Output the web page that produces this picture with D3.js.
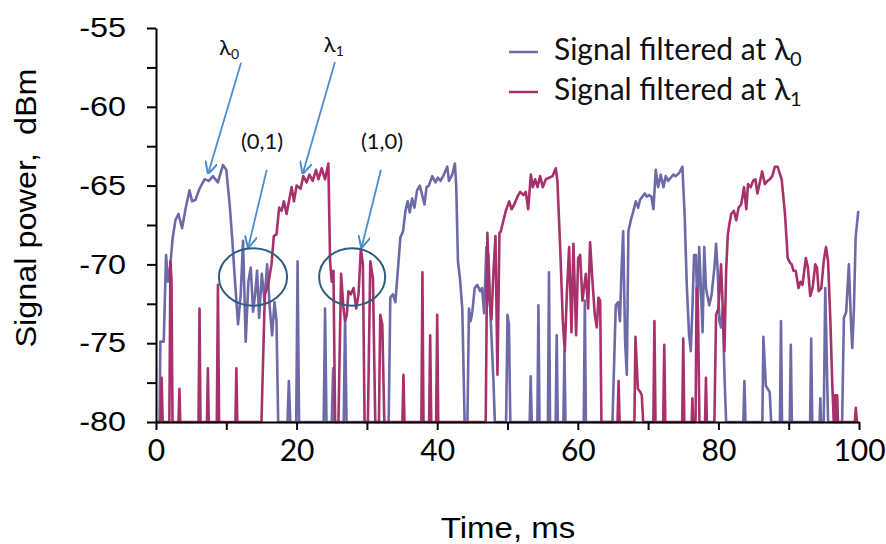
<!DOCTYPE html>
<html>
<head>
<meta charset="utf-8">
<script src="https://cdn.jsdelivr.net/npm/d3@7"></script>
<style>
  body { margin: 0; background: #fff; }
  svg { display: block; }
  .axis path, .axis line { stroke: #000; stroke-width: 2; }
</style>
</head>
<body>
<div id="chart-area"></div>
<script>
// signal filtered at lambda0 (blue)
const timeL0 = [0, 0.5, 0.62, 1.1, 1.43, 1.71, 2.0, 2.38, 2.76, 3.19, 3.71, 4.19, 4.76, 5.14, 5.62, 6.19, 6.9, 7.52, 8.1, 8.8, 9.52, 10.0,
  10.48, 10.86, 11.24, 11.67, 12.05, 12.38, 12.76, 13.14, 13.48, 13.81, 14.1, 14.38, 14.67, 15.05, 15.43, 15.81, 16.19, 16.52, 16.86, 17.14, 17.38,
  18.7, 18.9, 19.1, 19.95, 20.14, 20.35, 23.85, 24.05, 24.25, 25.0, 25.2, 25.4, 26.7, 26.9, 27.1,
  33.1, 33.33, 33.7, 34.05, 34.4, 34.76, 35.14, 35.48, 35.8, 36.1, 36.43, 36.76, 37.14, 37.52, 37.86, 38.19, 38.48, 38.81, 39.29, 39.76, 40.1, 40.48, 40.95, 41.43, 41.67, 42.14, 42.52, 42.71,
  42.95, 43.24, 43.57, 43.9, 44.3, 44.52, 44.76, 45.0, 45.33, 45.71, 46.1, 46.38, 46.67, 47.0, 47.29, 47.62, 48.0, 48.2,
  49.8, 50.0, 50.2, 50.4, 53.15, 53.3, 53.45, 54.25, 54.4, 54.55, 55.75, 55.9, 56.05, 56.85, 57.0, 57.15, 57.95, 58.1, 58.25, 60.85, 61.0, 61.15,
  64.93, 65.4, 65.73, 66.0, 66.2, 66.45, 66.73, 66.97, 67.2, 67.54, 67.91, 68.25, 68.58, 68.86, 69.19, 69.53, 69.81, 70.14, 70.47, 70.76, 71.09, 71.42, 71.8, 72.18, 72.5, 72.84, 73.22, 73.6, 73.93, 74.41, 74.88,
  75.21, 75.5, 75.83, 76.07, 76.3, 76.54, 76.8, 77.03, 77.27, 77.51, 77.75, 77.99, 78.23, 78.7, 79.04, 79.43, 79.67, 79.9, 80.14, 80.38, 80.62, 80.86, 81.1,
  83.55, 83.7, 83.85, 86.25, 86.4, 86.75, 87.3, 87.5, 88.75, 88.9, 89.05, 90.15, 90.3, 90.45, 93.05, 93.2, 93.35, 94.4, 94.5, 94.6, 94.98, 95.2, 95.6,
  97.6, 97.85, 98.18, 98.56, 98.85, 99.04, 99.28, 99.52, 99.9];
const powerL0 = [-80, -80, -74.9, -74.9, -69.4, -71.1, -70.2, -68.3, -67.2, -66.8, -67.7, -66.5, -65.3, -66.0, -65.9, -65.2, -64.6, -64.7, -64.4, -64.8, -63.7, -64.0,
  -66.2, -68.5, -71.1, -73.8, -71.9, -68.5, -74.9, -71.1, -70.2, -73.0, -71.9, -70.4, -73.4, -70.6, -72.3, -70.0, -72.8, -74.5, -72.4, -73.6, -80,
  -80, -77.4, -80, -80, -69.8, -80, -80, -72.8, -80, -80, -76.6, -80, -80, -73.4, -80,
  -80, -72.1, -71.9, -72.4, -70.4, -68.3, -67.9, -66.6, -66.0, -66.7, -65.8, -66.4, -65.3, -65.0, -65.6, -66.2, -65.1, -65.0, -64.4, -64.8, -64.5, -64.7, -64.3, -63.8, -64.7, -64.3, -63.6, -65.1,
  -69.8, -70.9, -72.8, -80, -80, -72.8, -73.6, -73.0, -71.5, -71.3, -71.7, -71.5, -73.1, -68.9, -69.4, -73.6, -77.4, -80,
  -80, -73.2, -73.8, -80, -80, -77.1, -80, -80, -72.6, -80, -80, -70.5, -80, -80, -74.5, -80, -80, -75.5, -80, -80, -72.3, -80,
  -80, -72.6, -72.4, -73.6, -70.6, -67.9, -74.9, -77.0, -67.9, -67.2, -66.6, -66.0, -66.4, -65.9, -65.7, -65.5, -65.7, -65.6, -65.7, -66.5, -64.0, -65.1, -64.3, -65.1, -64.4, -64.7, -64.5, -64.3, -64.4, -64.2, -63.8,
  -67.0, -71.3, -74.5, -75.5, -72.8, -69.4, -69.4, -73.2, -68.9, -71.5, -74.3, -68.9, -71.5, -72.6, -71.9, -70.2, -68.7, -70.4, -73.6, -74.0, -72.8, -77.0, -80,
  -80, -77.4, -80, -80, -74.6, -77.7, -78.1, -80, -80, -73.6, -80, -80, -75.1, -80, -80, -74.7, -80, -80, -78.5, -80, -80, -71.5, -80,
  -80, -73.4, -73.0, -70.0, -73.6, -75.3, -72.8, -68.3, -66.6];

// signal filtered at lambda1 (red)
const timeL1 = [0, 0.65, 0.8, 0.95, 1.9, 2.05, 2.2, 2.35, 3.2, 3.33, 3.45, 6.05, 6.19, 6.33, 7.25, 7.38, 7.5, 8.65, 8.81, 8.97, 11.3, 11.43, 11.56,
  15.0, 15.48, 15.95, 16.43, 16.76, 17.14, 17.52, 17.86, 18.19, 18.57, 18.95, 19.29, 19.62, 20.0, 20.57, 20.95, 21.43, 21.81, 22.29, 22.76, 23.1, 23.57, 24.05, 24.52,
  24.76, 25.0, 25.24, 25.48, 25.95, 26.33, 26.67, 26.9, 27.14, 27.38, 27.71, 28.1, 28.48, 28.81, 29.14, 29.43, 29.67, 30.14, 30.48, 30.86, 31.19,
  31.71, 31.9, 32.19, 32.48, 35.05, 35.2, 35.35, 37.75, 37.9, 38.05, 38.85, 39.0, 39.15, 39.85, 40.0, 40.15,
  46.9, 47.14, 47.43, 47.71, 48.0, 48.29, 48.57, 48.86, 49.05, 49.43, 49.76, 50.24, 50.57, 50.95, 51.42, 51.8, 52.27, 52.6, 52.94, 53.32, 53.6, 53.93, 54.27, 54.64, 55.02, 55.45, 55.92, 56.4, 56.87, 57.1,
  57.49, 57.87, 58.15, 58.44, 58.77, 59.1, 59.38, 59.76, 60.05, 60.33, 60.66, 61.14, 61.47, 61.75, 62.09, 62.42, 62.7, 62.94, 63.18, 63.36,
  65.65, 65.8, 65.95, 68.05, 68.2, 68.55, 68.9, 69.1, 69.3, 70.75, 70.9, 71.05, 72.15, 72.3, 72.45, 74.85, 75.0, 75.15, 76.2, 76.3, 76.4,
  76.75, 76.9, 77.1, 77.3, 78.1, 78.23, 78.36, 79.43, 79.67, 80.0, 80.38, 80.62, 80.86, 81.1, 81.34, 81.58, 81.82, 82.2, 82.54, 82.87, 83.25, 83.64, 83.97, 84.21, 84.59, 84.93, 85.26, 85.55, 85.89, 86.22,
  86.6, 86.99, 87.32, 87.66, 88.04, 88.42, 89.0, 89.47, 89.86, 90.19, 90.43, 90.67, 91.0, 91.39, 91.67, 91.96, 92.44, 92.73, 93.06, 93.4, 93.78, 94.02, 94.26, 94.64, 94.98, 95.31, 95.6, 95.93, 96.17, 96.41,
  96.5, 96.6, 96.7, 96.8, 96.9, 97.0, 99.4, 99.55, 99.7, 99.9];
const powerL1 = [-80, -80, -77.2, -80, -80, -69.8, -71.0, -80, -80, -77.9, -80, -80, -72.8, -80, -80, -76.6, -80, -80, -71.3, -80, -80, -76.6, -80,
  -80, -71.9, -71.3, -70.0, -68.2, -68.1, -66.4, -66.6, -66.0, -66.8, -65.9, -65.1, -66.0, -65.0, -65.2, -64.4, -64.8, -64.3, -64.7, -64.0, -64.6, -63.9, -64.6, -63.6,
  -69.8, -71.1, -70.4, -80, -80, -70.6, -72.8, -73.6, -73.2, -71.7, -71.9, -71.5, -72.8, -71.9, -69.0, -70.0, -80, -80, -69.8, -70.9, -80,
  -80, -73.2, -73.8, -80, -80, -77.0, -80, -80, -70.5, -80, -80, -74.5, -80, -80, -73.2, -80,
  -80, -68.0, -72.3, -73.5, -70.5, -68.2, -77.0, -68.0, -67.9, -67.2, -66.6, -66.0, -66.5, -66.2, -65.7, -65.4, -65.6, -65.4, -66.5, -64.3, -65.1, -64.6, -65.1, -64.4, -65.1, -64.6, -64.5, -64.4, -63.9, -64.7,
  -68.9, -73.6, -75.5, -71.9, -68.9, -74.3, -68.7, -74.5, -69.6, -69.4, -72.3, -70.6, -72.8, -68.6, -71.1, -73.2, -74.0, -72.1, -72.3, -80,
  -80, -77.4, -80, -80, -74.6, -77.9, -78.1, -78.3, -80, -80, -73.6, -80, -80, -75.1, -80, -80, -74.7, -80, -80, -78.5, -80,
  -80, -71.5, -73.0, -80, -80, -77.2, -80, -80, -73.2, -72.8, -70.0, -72.8, -75.5, -70.4, -68.1, -67.4, -66.8, -66.6, -67.2, -66.4, -66.2, -65.1, -66.5, -64.9, -65.1, -64.7, -64.6, -65.5, -64.8, -64.1,
  -64.9, -64.7, -64.6, -64.4, -63.8, -63.8, -64.6, -66.8, -69.6, -69.9, -70.0, -70.4, -70.4, -71.5, -71.1, -71.3, -69.6, -70.2, -72.0, -71.5, -70.0, -70.2, -71.7, -71.5, -69.8, -68.9, -69.8, -73.6, -77.2, -80,
  -80, -78.3, -80, -80, -78.3, -80, -80, -79.1, -80, -80];

const xTicks = [0, 10, 20, 30, 40, 50, 60, 70, 80, 90, 100];
const xLabels = [0, 20, 40, 60, 80, 100];
const yTicks = [-80, -77.5, -75, -72.5, -70, -67.5, -65, -62.5, -60, -57.5, -55];
const yLabels = [-80, -75, -70, -65, -60, -55];

const seriesNames = ["Signal filtered at \u03bb", "Signal filtered at \u03bb"];
const seriesSubs = ["0", "1"];
const colors = ["#6c6aa8", "#a8316b"];

// annotations in data units
const arrowLabels = [
  { text: "\u03bb", sub: "0", x: 10.4, y: -56.3 },
  { text: "\u03bb", sub: "1", x: 25.3, y: -56.1 },
  { text: "(0,1)", sub: "", x: 15.08, y: -62.25 },
  { text: "(1,0)", sub: "", x: 32.15, y: -62.25 }
];
const arrows = [
  { x1: 12.1, y1: -57.2, x2: 7.44, y2: -64.2 },
  { x1: 25.46, y1: -57.16, x2: 20.9, y2: -64.2 },
  { x1: 15.75, y1: -64.0, x2: 13.13, y2: -68.9 },
  { x1: 32.0, y1: -64.0, x2: 29.26, y2: -68.9 }
];
const circles = [
  { x: 13.8, y: -70.8, rx: 4.85, ry: 1.82 },
  { x: 27.9, y: -70.8, rx: 4.7, ry: 1.82 }
];

const width = 886, height = 544;
const plot = { left: 156, right: 859, top: 28, bottom: 422 };

const svg = d3.select("#chart-area").append("svg")
  .attr("width", width)
  .attr("height", height);

const x = d3.scaleLinear().domain([0, 100]).range([plot.left, plot.right]);
const y = d3.scaleLinear().domain([-80, -55]).range([plot.bottom, plot.top]);

// stretches axis labels sideways, the source picture is wider than tall
function stretch(sel, sx) {
  sel.each(function() {
    const t = d3.select(this);
    const x0 = +t.attr("x") || 0;
    t.attr("x", 0).attr("transform", "translate(" + x0 + ",0) scale(" + sx + ",1)");
  });
}

// lines
const line = d3.line().x(d => x(d[0])).y(d => y(d[1]));
const l0 = timeL0.map((t, i) => [t, powerL0[i]]);
const l1 = timeL1.map((t, i) => [t, powerL1[i]]);

svg.append("path").datum(l0)
  .attr("d", line).attr("fill", "none")
  .attr("stroke", colors[0]).attr("stroke-width", 2.6).attr("stroke-linejoin", "round");
svg.append("path").datum(l1)
  .attr("d", line).attr("fill", "none")
  .attr("stroke", colors[1]).attr("stroke-width", 2.6).attr("stroke-linejoin", "round");

// axes
const yAxis = svg.append("g")
  .attr("class", "axis")
  .attr("transform", "translate(" + plot.left + ",0)")
  .call(d3.axisLeft(y).tickValues(yTicks).tickSize(9).tickSizeOuter(0).tickPadding(21)
    .tickFormat(d => yLabels.includes(d) ? d : ""));
yAxis.selectAll("text")
  .attr("font-family", "'Liberation Sans', Arial, sans-serif")
  .attr("font-size", "27px").attr("fill", "#000")
  .call(stretch, 1.2);

const xAxis = svg.append("g")
  .attr("class", "axis")
  .attr("transform", "translate(0," + plot.bottom + ")")
  .call(d3.axisBottom(x).tickValues(xTicks).tickSize(8).tickSizeOuter(0).tickPadding(10)
    .tickFormat(d => xLabels.includes(d) ? d : ""));
xAxis.selectAll("text")
  .attr("font-family", "Lato, sans-serif")
  .attr("font-size", "30px").attr("fill", "#000");

// axis titles
svg.append("text")
  .attr("transform", "translate(508,538) scale(1.1,1)")
  .attr("text-anchor", "middle")
  .attr("font-family", "'Liberation Sans', Arial, sans-serif")
  .attr("font-size", "30px")
  .text("Time, ms");

svg.append("text")
  .attr("transform", "translate(36,208) rotate(-90) scale(1.08,1)")
  .attr("text-anchor", "middle")
  .attr("font-family", "'Liberation Sans', Arial, sans-serif")
  .attr("font-size", "30px")
  .text("Signal power,  dBm")
  .style("white-space", "pre");

// legend
const legend = svg.append("g").attr("transform", "translate(509,0)");
seriesNames.forEach(function(name, i) {
  const ly = 52 + i * 40;
  legend.append("line")
    .attr("x1", 0).attr("x2", 29).attr("y1", ly).attr("y2", ly)
    .attr("stroke", colors[i]).attr("stroke-width", 2.5);
  const t = legend.append("text")
    .attr("x", 45).attr("y", ly + 8)
    .attr("font-family", "Lato, 'Noto Sans', sans-serif")
    .attr("font-size", "30px").attr("fill", "#111");
  t.append("tspan").text(name);
  t.append("tspan").attr("font-size", "20px").attr("dy", 6).text(seriesSubs[i]);
});

// annotations
svg.append("defs").append("marker")
  .attr("id", "head")
  .attr("viewBox", "0 0 10 10")
  .attr("refX", 9).attr("refY", 5)
  .attr("markerWidth", 7).attr("markerHeight", 7)
  .attr("orient", "auto")
  .append("path")
  .attr("d", "M0,0 L10,5 L0,10")
  .attr("fill", "none").attr("stroke", "#4a8ed2").attr("stroke-width", 1.6);

svg.selectAll(".arrow").data(arrows).enter().append("line")
  .attr("class", "arrow")
  .attr("x1", d => x(d.x1)).attr("y1", d => y(d.y1))
  .attr("x2", d => x(d.x2)).attr("y2", d => y(d.y2))
  .attr("stroke", "#4a8ed2").attr("stroke-width", 1.8)
  .attr("marker-end", "url(#head)");

svg.selectAll(".ring").data(circles).enter().append("ellipse")
  .attr("class", "ring")
  .attr("cx", d => x(d.x)).attr("cy", d => y(d.y))
  .attr("rx", d => x(d.rx) - x(0)).attr("ry", d => y(-80) - y(-80 + d.ry))
  .attr("fill", "none").attr("stroke", "#2d5c82").attr("stroke-width", 2);

arrowLabels.forEach(function(a) {
  const t = svg.append("text")
    .attr("x", x(a.x)).attr("y", y(a.y) + 7)
    .attr("text-anchor", "middle")
    .attr("font-family", "Lato, 'Noto Sans', sans-serif")
    .attr("font-size", "22px").attr("fill", "#111");
  t.append("tspan").text(a.text);
  if (a.sub) t.append("tspan").attr("font-size", "14px").attr("dy", 4).text(a.sub);
});
</script>
</body>
</html>
